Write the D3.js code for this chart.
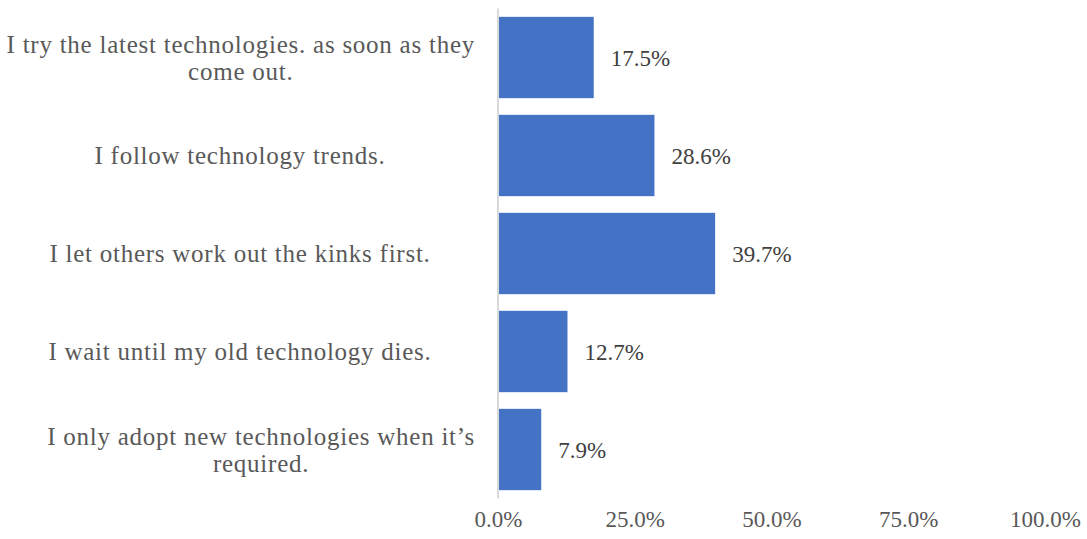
<!DOCTYPE html>
<html>
<head>
<meta charset="utf-8">
<script src="https://cdn.jsdelivr.net/npm/d3@7"></script>
<style>
  body { margin: 0; background: #fff; }
</style>
</head>
<body>
<div id="chart"></div>
<script>

// Data.
var categories = [
  'I try the latest technologies. as soon as they come out.',
  'I follow technology trends.',
  'I let others work out the kinks first.',
  'I wait until my old technology dies.',
  'I only adopt new technologies when it\u2019s required.'
];
var shares = [17.5, 28.6, 39.7, 12.7, 7.9];
var tickValues = [0, 25, 50, 75, 100];


var config = {
  width: 1087,
  height: 539,
  fontFamily: '"Liberation Serif", "Times New Roman", serif',
  fontSize: 23,
  labelFontSize: 25,
  labelSpacing: 0.75,
  barColor: '#4472C4'
};

var layout = {
  plotLeft: 498,
  plotRight: 1045,
  plotTop: 8.5,
  plotBottom: 498.5,
  labelCenter: 240,
  labelRightLimit: 475,
  wrapWidth: 470,
  lineHeight: 27
};

var svg = d3.select('#chart').append('svg')
  .attr('width', config.width)
  .attr('height', config.height)
  .style('font-family', config.fontFamily);

var x = d3.scaleLinear()
  .domain([0, 100])
  .range([layout.plotLeft, layout.plotRight]);

var y = d3.scaleBand()
  .domain(categories)
  .range([layout.plotTop, layout.plotBottom])
  .paddingInner(0.17)
  .paddingOuter(0.085);

// Bars.
svg.selectAll('.bar').data(shares).enter()
  .append('rect')
    .classed('bar', true)
    .attr('x', x(0))
    .attr('y', function(d, i) { return y(categories[i]); })
    .attr('width', function(d) { return x(d) - x(0); })
    .attr('height', y.bandwidth())
    .attr('fill', config.barColor);

// Vertical axis line.
svg.append('line')
  .attr('x1', x(0))
  .attr('x2', x(0))
  .attr('y1', layout.plotTop)
  .attr('y2', layout.plotBottom)
  .attr('stroke', '#d9d9d9')
  .attr('stroke-width', 2);

// Value labels.
svg.selectAll('.value').data(shares).enter()
  .append('text')
    .classed('value', true)
    .text(function(d) { return d.toFixed(1) + '%'; })
    .attr('x', function(d) { return x(d) + 17; })
    .attr('y', function(d, i) { return y(categories[i]) + y.bandwidth() / 2; })
    .attr('dy', '0.35em')
    .attr('fill', '#404040')
    .style('font-size', config.fontSize + 'px');

// Bottom axis tick labels (no line, no ticks).
var xAxis = d3.axisBottom(x)
  .tickValues(tickValues)
  .tickSize(0)
  .tickPadding(0)
  .tickFormat(function(d) { return d.toFixed(1) + '%'; });

var axisG = svg.append('g')
  .attr('transform', 'translate(0, 511)')
  .call(xAxis);

axisG.select('.domain').remove();
axisG.selectAll('text')
  .attr('fill', '#595959')
  .attr('dy', '0.71em')
  .style('font-family', config.fontFamily)
  .style('font-size', config.fontSize + 'px');

// Category labels: wrapped; single lines centered, wrapped blocks pushed to the right edge.
var labels = svg.selectAll('.cat').data(categories).enter()
  .append('text')
    .classed('cat', true)
    .attr('fill', '#595959')
    .style('font-size', config.labelFontSize + 'px')
    .style('letter-spacing', config.labelSpacing + 'px')
    .attr('text-anchor', 'middle');

labels.each(function(d) {
  var text = d3.select(this);
  var words = d.split(' ');
  var lines = [];
  var line = [];
  var probe = text.append('tspan');

  words.forEach(function(w) {
    line.push(w);
    probe.text(line.join(' '));
    if (probe.node().getComputedTextLength() > layout.wrapWidth && line.length > 1) {
      line.pop();
      lines.push(line.join(' '));
      line = [w];
    }
  });
  lines.push(line.join(' '));

  var widest = 0;
  lines.forEach(function(l) {
    probe.text(l);
    widest = Math.max(widest, probe.node().getComputedTextLength());
  });
  probe.remove();

  var cx = layout.labelCenter;
  if (lines.length > 1 || cx + widest / 2 > layout.labelRightLimit) {
    cx = layout.labelRightLimit - widest / 2;
  }

  var midY = y(d) + y.bandwidth() / 2;
  var firstY = midY - (lines.length - 1) * layout.lineHeight / 2;

  lines.forEach(function(l, i) {
    text.append('tspan')
      .attr('x', cx)
      .attr('y', firstY + i * layout.lineHeight)
      .attr('dy', '0.35em')
      .text(l);
  });
});

</script>
</body>
</html>
